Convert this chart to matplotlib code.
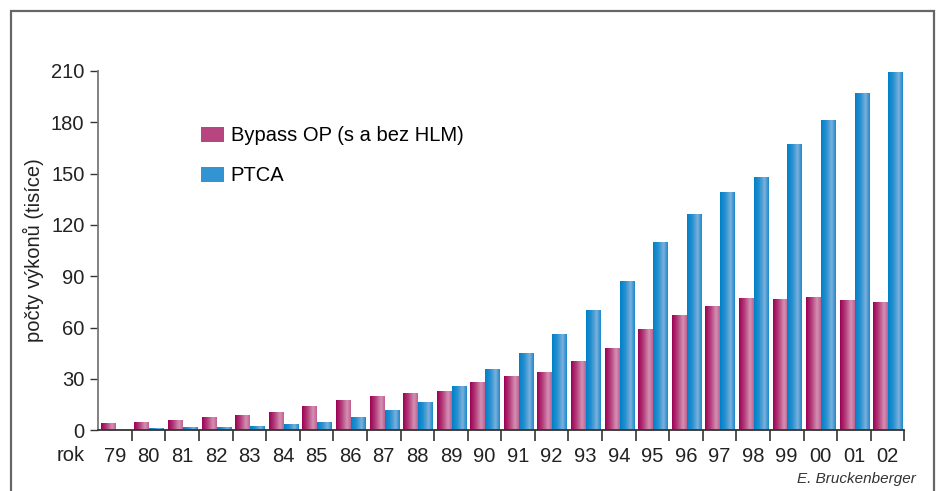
import numpy as np
import matplotlib.pyplot as plt
from matplotlib.colors import LinearSegmentedColormap
from matplotlib.patches import Rectangle

plt.rcParams['font.family'] = ['Liberation Sans', 'DejaVu Sans']

### data (thousands of procedures)
years = ['79', '80', '81', '82', '83', '84', '85', '86', '87', '88', '89', '90',
         '91', '92', '93', '94', '95', '96', '97', '98', '99', '00', '01', '02']
bypass = [4.0, 5.0, 6.2, 8.0, 9.1, 10.9, 14.4, 17.9, 20.2, 22.0, 23.2, 28.4,
          31.9, 34.3, 40.7, 48.3, 59.4, 67.6, 72.9, 77.5, 77.0, 78.1, 76.4, 75.2]
ptca = [0.0, 1.5, 2.1, 2.1, 2.7, 3.9, 5.0, 8.0, 12.0, 16.7, 26.1, 36.0,
        45.4, 56.5, 70.5, 87.5, 110.3, 126.5, 139.4, 148.1, 167.4, 181.5, 197.3, 209.5]
yticks = [0, 30, 60, 90, 120, 150, 180, 210]

cm_bypass = LinearSegmentedColormap.from_list(
    'byp', [(0, '#9c0056'), (0.35, '#b23a78'), (0.75, '#d491b4'), (1, '#c0608e')])
cm_ptca = LinearSegmentedColormap.from_list(
    'pt', [(0, '#0080c8'), (0.35, '#2690d0'), (0.72, '#7cb0dc'), (1, '#1a88cc')])
grad = np.linspace(0, 1, 64).reshape(1, -1)


def shade(ax, patches, cmap):
    # fill every bar with a horizontal gradient
    for b in patches:
        x0, y0 = b.get_x(), b.get_y()
        w, h = b.get_width(), b.get_height()
        if h <= 0:
            continue
        im = ax.imshow(grad, cmap=cmap, aspect='auto', extent=(x0, x0 + w, y0, y0 + h),
                       interpolation='bilinear', zorder=2)
        im.set_clip_path(b)


fig = plt.figure(figsize=(9.4, 4.91), dpi=100)
ax = fig.add_axes([0.1046, 0.1236, 0.8574, 0.7318])

x = np.arange(len(years))
w = 0.43
b1 = ax.bar(x - 0.208, bypass, w, color='#b23a78', linewidth=0, zorder=1)
b2 = ax.bar(x + 0.237, ptca, w, color='#2690d0', linewidth=0, zorder=1)
shade(ax, b1, cm_bypass)
shade(ax, b2, cm_ptca)

ax.set_xlim(-0.5, len(years) - 0.5)
ax.set_ylim(0, 210)

for s in ['top', 'right']:
    ax.spines[s].set_visible(False)
ax.spines['left'].set_color('#777777')
ax.spines['left'].set_linewidth(1.3)
ax.spines['bottom'].set_color('#333333')
ax.spines['bottom'].set_linewidth(1.3)

ax.set_yticks(yticks)
ax.set_yticklabels([str(v) for v in yticks], fontsize=14.5, color='#222222')
ax.tick_params(axis='y', length=6, width=1, color='#333333', pad=4)

ax.set_xticks(x + 0.5)
ax.set_xticklabels([])
ax.tick_params(axis='x', which='major', length=8, width=1.2, color='#333333', direction='out')
ax.set_xticks(x, minor=True)
ax.set_xticklabels(years, minor=True, fontsize=14.5, color='#222222')
ax.tick_params(axis='x', which='minor', length=0, pad=12)

ax.text(-0.9, -0.07, 'rok', transform=ax.get_xaxis_transform(), ha='right', va='center',
        fontsize=14.5, color='#222222')

fig.text(33 / 940, 1 - 250 / 491, 'počty výkonů (tisíce)', rotation=90, ha='center',
         va='center', fontsize=14.5, color='#222222')

ax.legend([b1[0], b2[0]], ['Bypass OP (s a bez HLM)', 'PTCA'], loc='upper left',
          bbox_to_anchor=(0.128, 0.846), borderpad=0, borderaxespad=0, frameon=False,
          fontsize=14.5, handlelength=1.1, handleheight=0.8, handletextpad=0.35,
          labelspacing=1.05)
leg = ax.get_legend()
for h, cm in zip(leg.legend_handles, [cm_bypass, cm_ptca]):
    h.set_color(cm(0.4))

fig.text(916 / 940, 1 - 479 / 491, 'E. Bruckenberger', ha='right', va='center',
         fontsize=11, style='italic', color='#333333')

# outer frame
fig.patches.append(Rectangle((11 / 940, -0.1), 923 / 940, 1.1 - 11 / 491, transform=fig.transFigure,
                             fill=False, edgecolor='#666666', linewidth=1.6))

fig.savefig('out.png', dpi=100)
